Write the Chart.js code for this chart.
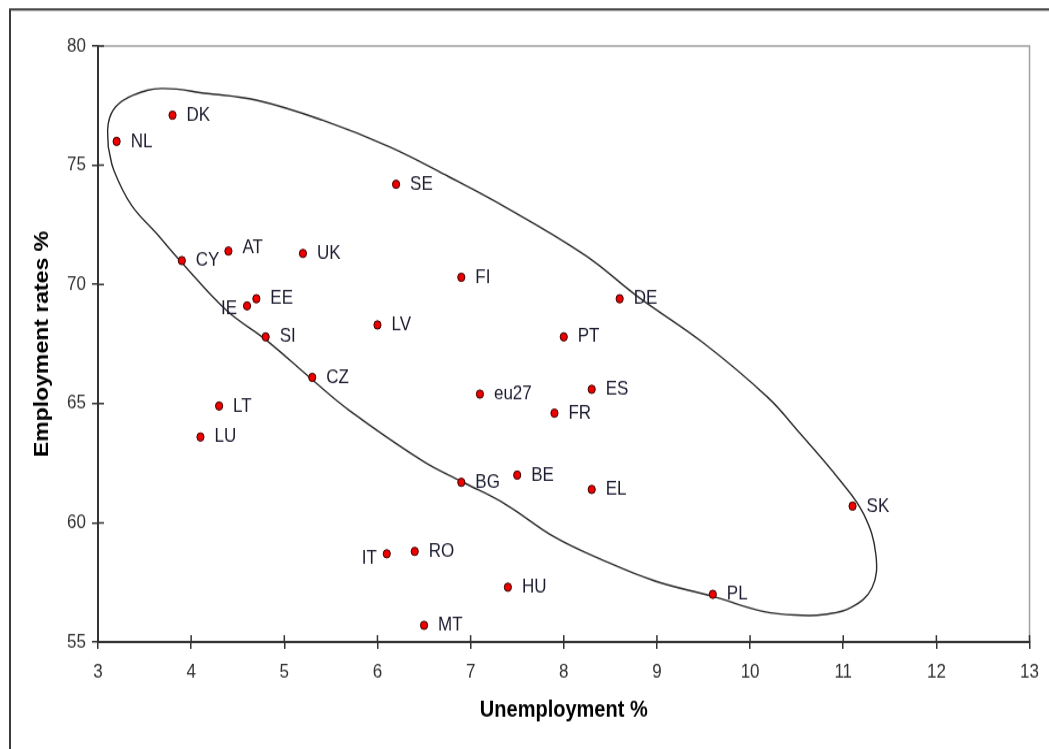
<!DOCTYPE html>
<html>
<head>
<meta charset="utf-8">
<script src="https://cdn.jsdelivr.net/npm/chart.js@4"></script>
<style>
  html, body { margin: 0; padding: 0; background: #fff; }
  #page { width: 1049px; height: 749px; overflow: hidden; position: relative; }
  #wrap { width: 1049px; height: 651px; transform: scale(1, 1.1505); transform-origin: 0 0; }
</style>
</head>
<body>
<div id="page"><div id="wrap"><canvas id="chart" width="1049" height="651"></canvas></div></div>
<script>
const codes = ["DK","NL","SE","CY","AT","UK","FI","EE","IE","DE","SI","LV","PT","CZ","eu27","ES","LT","FR","LU","BG","BE","EL","SK","IT","RO","HU","PL","MT"];
const unemployment = [3.8,3.2,6.2,3.9,4.4,5.2,6.9,4.7,4.6,8.6,4.8,6.0,8.0,5.3,7.1,8.3,4.3,7.9,4.1,6.9,7.5,8.3,11.1,6.1,6.4,7.4,9.6,6.5];
const employment = [77.1,76.0,74.2,71.0,71.4,71.3,70.3,69.4,69.1,69.4,67.8,68.3,67.8,66.1,65.4,65.6,64.9,64.6,63.6,61.7,62.0,61.4,60.7,58.7,58.8,57.3,57.0,55.7];

// hand-drawn ring around the main group
const ringX = [3.11,3.11,3.19,3.38,3.68,4.17,4.70,5.41,6.13,6.77,7.37,8.23,8.80,9.51,10.19,10.51,10.97,11.22,11.35,11.31,11.08,10.80,10.55,10.15,9.62,8.98,8.44,7.91,7.37,6.91,6.48,5.70,5.31,4.81,4.38,3.91,3.63,3.36,3.17,3.11];
const ringY = [75.77,76.75,77.45,77.94,78.22,78.01,77.73,76.89,75.77,74.51,73.25,71.22,69.47,67.51,65.26,63.87,61.76,60.36,58.68,57.28,56.44,56.16,56.12,56.27,56.89,57.56,58.40,59.38,60.79,61.72,62.61,64.71,65.97,67.65,68.91,70.87,72.13,73.32,74.79,75.77];

const xTicks = { min: 3, max: 13, step: 1 };
const yTicks = { min: 55, max: 80, step: 5 };

const leftLabels = { IE: 2, IT: 4 };   // labels placed left of the dot (dy in px)
const nudge = { AT: -2.6 };

const FONT = "'Liberation Sans', Arial, sans-serif";

const framePlugin = {
    id: "frame",
    beforeDraw(chart) {
        const ctx = chart.ctx;
        ctx.save();
        ctx.fillStyle = "#fff";
        ctx.fillRect(0, 0, chart.width, chart.height);
        ctx.restore();
    },
    afterDraw(chart) {
        const { ctx, chartArea: a, scales: { x, y } } = chart;
        ctx.save();
        // outer frame (top + left)
        ctx.strokeStyle = "#3c3c3c";
        ctx.lineWidth = 2;
        ctx.beginPath();
        ctx.moveTo(10, chart.height);
        ctx.lineTo(10, 8.3);
        ctx.lineTo(chart.width, 8.3);
        ctx.stroke();
        // plot box top + right
        ctx.strokeStyle = "#a0a0a0";
        ctx.lineWidth = 1.5;
        ctx.beginPath();
        ctx.moveTo(a.left, a.top);
        ctx.lineTo(a.right, a.top);
        ctx.lineTo(a.right, a.bottom);
        ctx.stroke();
        // inner half of the tick marks
        ctx.strokeStyle = "#333";
        ctx.lineWidth = 1.5;
        ctx.beginPath();
        x.ticks.forEach(t => {
            const px = x.getPixelForValue(t.value);
            ctx.moveTo(px, a.bottom);
            ctx.lineTo(px, a.bottom - 6);
        });
        y.ticks.forEach(t => {
            const py = y.getPixelForValue(t.value);
            ctx.moveTo(a.left, py);
            ctx.lineTo(a.left + 6, py);
        });
        ctx.stroke();
        ctx.restore();
    },
    afterDatasetsDraw(chart) {
        const ctx = chart.ctx;
        const meta = chart.getDatasetMeta(0);
        ctx.save();
        ctx.font = "17px " + FONT;
        ctx.fillStyle = "#1c1c30";
        ctx.textBaseline = "middle";
        meta.data.forEach((pt, i) => {
            const code = codes[i];
            if (code in leftLabels) {
                ctx.textAlign = "right";
                ctx.fillText(code, pt.x - 10, pt.y + leftLabels[code]);
            } else {
                ctx.textAlign = "left";
                ctx.fillText(code, pt.x + 14, pt.y + (nudge[code] || 0));
            }
        });
        ctx.restore();
    }
};

const ctx = document.getElementById("chart").getContext("2d");
new Chart(ctx, {
    type: "scatter",
    data: {
        datasets: [
            {
                label: "Countries",
                data: codes.map((c, i) => ({ x: unemployment[i], y: employment[i] })),
                backgroundColor: "#ee0000",
                borderColor: "#3a0000",
                borderWidth: 1,
                pointRadius: 3.6,
                pointHoverRadius: 3.6
            },
            {
                label: "ring",
                data: ringX.map((v, i) => ({ x: v, y: ringY[i] })),
                showLine: true,
                borderColor: "#2a2a2a",
                borderWidth: 1.4,
                pointRadius: 0,
                tension: 0.4,
                fill: false
            }
        ]
    },
    options: {
        responsive: false,
        animation: false,
        events: [],
        layout: { padding: { left: 0, top: 40, right: 16, bottom: 0 } },
        plugins: { legend: { display: false }, tooltip: { enabled: false } },
        scales: {
            x: {
                type: "linear",
                min: xTicks.min,
                max: xTicks.max,
                afterFit: s => { s.height = 93; },
                ticks: { stepSize: xTicks.step, padding: 10, color: "#333", font: { family: FONT, size: 17 } },
                grid: { display: true, drawOnChartArea: false, drawTicks: true, tickLength: 6, color: "#333", lineWidth: 1.5 },
                border: { display: true, color: "#333", width: 2 },
                title: { display: true, text: "Unemployment %", color: "#000", font: { family: FONT, size: 20, weight: "bold" }, padding: { top: 0, bottom: 22 } }
            },
            y: {
                type: "linear",
                min: yTicks.min,
                max: yTicks.max,
                afterFit: s => { s.width = 98; },
                ticks: { stepSize: yTicks.step, padding: 6, color: "#333", font: { family: FONT, size: 17 } },
                grid: { display: true, drawOnChartArea: false, drawTicks: true, tickLength: 6, color: "#333", lineWidth: 1.5 },
                border: { display: true, color: "#333", width: 2 },
                title: { display: true, text: "Employment rates %", color: "#000", font: { family: FONT, size: 20, weight: "bold" }, padding: { top: 30, bottom: 0 } }
            }
        }
    },
    plugins: [framePlugin]
});
</script>
</body>
</html>
